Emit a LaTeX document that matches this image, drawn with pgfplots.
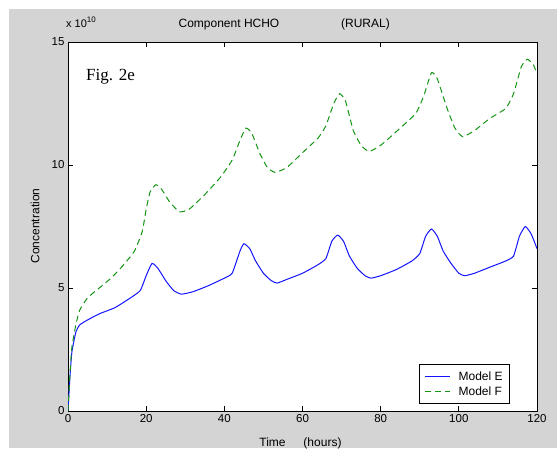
\documentclass[border=0pt]{standalone}
\usepackage{pgfplots}
\pgfplotsset{compat=1.18}
\usepackage{fontspec}
\setmainfont{Liberation Sans}
\newfontfamily\seriffont{Liberation Serif}
\definecolor{bggray}{RGB}{212,212,212}
\definecolor{mblue}{RGB}{20,20,255}
\definecolor{mgreen}{RGB}{20,150,20}
\begin{document}
\begin{tikzpicture}
\useasboundingbox (0pt,0pt) rectangle (557pt,450pt);
\fill[white] (0pt,0pt) rectangle (557pt,450pt);
\fill[bggray] (9pt,2pt) rectangle (557pt,441pt);
\begin{axis}[
  at={(68pt,39pt)}, anchor=south west,
  scale only axis, width=469pt, height=369pt,
  xmin=0, xmax=120, ymin=0, ymax=15,
  xtick={0,20,...,120}, ytick={0,5,10,15},
  axis background/.style={fill=white},
  tick align=inside, tick pos=both, major tick length=5pt,
  axis line style={line width=0.9pt, black},
  every tick/.style={black, line width=0.8pt},
  ticklabel style={font=\fontsize{11.5}{13}\selectfont},
  /pgf/number format/assume math mode=true,
  scaled y ticks=false,
  legend style={at={(axis cs:113.1,0.28)}, anchor=south east,
    font=\fontsize{12}{14}\selectfont, draw=black, line width=0.8pt, fill=white,
    inner xsep=5pt, inner ysep=5pt, row sep=1pt},
  legend cell align=left,
  legend image code/.code={\draw[#1, line width=1pt] (0pt,0pt) -- (25pt,0pt); \path (31pt,0pt);},
]
\addplot[mblue, line width=1pt, smooth, tension=0.3] coordinates {
(0,0) (0.5,1.4) (1,2.4) (2,3.2) (3,3.5) (5,3.7) (8,3.95) (12,4.2) (16,4.6)
(18.5,4.9) (20,5.5) (21.5,6.0) (23,5.8) (25,5.3) (27,4.9) (29,4.75) (32,4.85)
(36,5.1) (40,5.4) (42,5.6) (44,6.5) (45,6.8) (46.5,6.6) (48,6.1) (50,5.6)
(52,5.3) (53.5,5.2) (56,5.35) (60,5.6) (64,5.95) (66,6.2) (67.5,6.9) (69,7.15)
(70.5,6.9) (72,6.3) (74,5.8) (76,5.5) (77.5,5.4) (80,5.5) (84,5.75) (88,6.1)
(90,6.4) (91.5,7.1) (93,7.4) (94.5,7.1) (96,6.5) (98,6.0) (100,5.6) (101.5,5.5)
(104,5.6) (108,5.85) (112,6.1) (114,6.3) (115.5,7.1) (117,7.5) (118.5,7.2) (120,6.6)
};
\addlegendentry{Model E}
\addplot[mgreen, line width=1pt, dash pattern=on 6pt off 4pt, smooth, tension=0.3] coordinates {
(0,0) (0.5,1.5) (1,2.6) (2,3.5) (3,4.1) (5,4.6) (8,5.0) (11,5.4) (14,5.9)
(17,6.5) (19,7.3) (20,8.2) (21,8.9) (22.5,9.2) (24,9.0) (26,8.5) (28.5,8.1)
(31,8.2) (35,8.8) (39,9.5) (42,10.2) (44,11.0) (45.5,11.5) (47,11.3) (49,10.5)
(51,9.9) (53,9.7) (56,9.9) (60,10.5) (64,11.1) (66,11.6) (68,12.5) (69.5,12.9)
(71,12.6) (73,11.4) (75,10.8) (77,10.55) (80,10.8) (85,11.5) (89,12.1) (91,12.8)
(93,13.75) (94.5,13.5) (97,12.3) (99,11.5) (101,11.15) (104,11.4) (108,11.9)
(112,12.3) (114,12.9) (116,14.0) (117.5,14.3) (119,14.1) (120,13.7)
};
\addlegendentry{Model F}
\end{axis}
\node[anchor=base west, inner sep=0pt] at (86pt,369pt) {\seriffont\fontsize{17}{19}\selectfont Fig. 2e};
\node[anchor=base west, inner sep=0pt] at (66pt,422pt) {\fontsize{11}{13}\selectfont x 10\raisebox{5pt}{\fontsize{8}{8}\selectfont 10}};
\node[anchor=base, inner sep=0pt] at (229pt,422pt) {\fontsize{12}{14}\selectfont Component HCHO};
\node[anchor=base, inner sep=0pt] at (365.5pt,422pt) {\fontsize{12}{14}\selectfont (RURAL)};
\node[anchor=base, inner sep=0pt] at (272.5pt,4pt) {\fontsize{12}{14}\selectfont Time};
\node[anchor=base, inner sep=0pt] at (322.5pt,4pt) {\fontsize{12}{14}\selectfont (hours)};
\node[rotate=90, inner sep=0pt] at (35pt,224pt) {\fontsize{12}{14}\selectfont Concentration};
\end{tikzpicture}
\end{document}
